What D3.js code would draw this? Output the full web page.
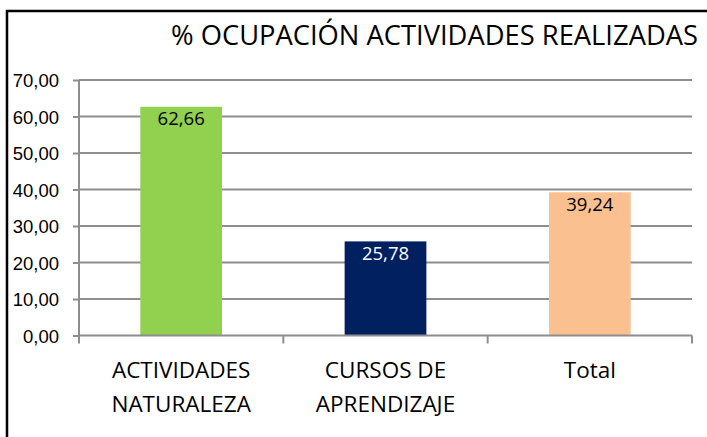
<!DOCTYPE html>
<html>
<head>
    <meta charset="utf-8">
    <style>
        body { margin: 0; background: #fff; }
        svg { display: block; font-family: "Open Sans", "DejaVu Sans", sans-serif; }
        .grid line { stroke: #8e8e8e; stroke-width: 2px; }
        .y .domain, .x .domain { stroke: #8e8e8e; stroke-width: 2px; }
        .y .tick line, .x .tick line { stroke: #8e8e8e; stroke-width: 2px; }
        .y .tick text { font-size: 18.5px; fill: #000; }
    </style>
</head>
<body>
    <svg width="707" height="437"></svg>

<script src="https://d3js.org/d3.v7.min.js"></script>
<script>
    // data
    let categories = [["ACTIVIDADES", "NATURALEZA"], ["CURSOS DE", "APRENDIZAJE"], ["Total"]]
    let values = [62.66, 25.78, 39.24]
    let labels = ["62,66", "25,78", "39,24"]
    let colors = ["#92d050", "#002060", "#fac090"]
    let labelColors = ["#000", "#fff", "#000"]
    let yTicks = [0, 10, 20, 30, 40, 50, 60, 70]

    let width = 707
    let height = 437
    let margin = { top: 80, right: 15, bottom: 101.5, left: 79 }

    let svg = d3.select("svg")

    // outer chart border (right and bottom fall outside the picture)
    svg.append("rect")
        .attr("x", 7)
        .attr("y", 11)
        .attr("width", 760)
        .attr("height", 480)
        .style("fill", "none")
        .style("stroke", "#000")
        .style("stroke-width", "2.5px")

    svg.append("text")
        .attr("x", 171)
        .attr("y", 45)
        .attr("font-size", 27)
        .attr("textLength", 527)
        .attr("lengthAdjust", "spacingAndGlyphs")
        .style("fill", "#000")
        .text("% OCUPACIÓN ACTIVIDADES REALIZADAS")

    let x = d3.scaleBand()
        .domain(d3.range(categories.length))
        .range([margin.left, width - margin.right])
        .padding(0)

    let y = d3.scaleLinear()
        .domain([0, 70])
        .range([height - margin.bottom, margin.top])

    // gridlines
    svg.append("g")
        .attr("class", "grid")
        .selectAll("line")
        .data(yTicks.slice(1))
        .join("line")
        .attr("x1", margin.left)
        .attr("x2", width - margin.right)
        .attr("y1", d => y(d))
        .attr("y2", d => y(d))

    // bars, 40% of the band
    let barW = x.bandwidth() * 0.4
    svg.append("g")
        .selectAll("rect")
        .data(values)
        .join("rect")
        .attr("x", (d, i) => x(i) + (x.bandwidth() - barW) / 2)
        .attr("y", d => y(d))
        .attr("width", barW)
        .attr("height", d => y(0) - y(d))
        .style("fill", (d, i) => colors[i])

    svg.append("g")
        .selectAll("text")
        .data(values)
        .join("text")
        .attr("x", (d, i) => x(i) + x.bandwidth() / 2)
        .attr("y", d => y(d) + 18.5)
        .attr("text-anchor", "middle")
        .attr("font-size", 18.5)
        .style("fill", (d, i) => labelColors[i])
        .text((d, i) => labels[i])

    // y axis
    let yAxisSettings = d3.axisLeft(y)
        .tickValues(yTicks)
        .tickSize(6)
        .tickSizeOuter(0)
        .tickPadding(14)
        .tickFormat(d => d3.format(".2f")(d).replace(".", ","))

    svg.append("g")
        .attr("class", "y axis")
        .attr("transform", `translate(${margin.left},0)`)
        .call(yAxisSettings)
        .call(g => g.select(".domain").attr("d", `M0,${y(70)}V${y(0) + 8}`))
        .selectAll(".tick text")
        .attr("dy", "0.36em")

    // x axis: baseline with ticks at band edges
    let xg = svg.append("g")
        .attr("class", "x axis")
        .attr("transform", `translate(0,${y(0)})`)

    xg.append("line")
        .attr("x1", margin.left)
        .attr("x2", width - margin.right)
        .style("stroke", "#8e8e8e")
        .style("stroke-width", "2px")

    let edges = d3.range(1, categories.length + 1).map(i => margin.left + x.step() * i)
    xg.selectAll(".edge")
        .data(edges)
        .join("line")
        .attr("class", "edge")
        .attr("x1", d => d)
        .attr("x2", d => d)
        .attr("y1", 0)
        .attr("y2", 8)
        .style("stroke", "#8e8e8e")
        .style("stroke-width", "2px")

    xg.selectAll(".cat")
        .data(categories)
        .join("text")
        .attr("class", "cat")
        .attr("text-anchor", "middle")
        .attr("font-size", 22.5)
        .style("fill", "#000")
        .selectAll("tspan")
        .data((d, i) => d.map(t => ({ t: t, i: i })))
        .join("tspan")
        .attr("x", d => x(d.i) + x.bandwidth() / 2)
        .attr("y", (d, j) => 42.5 + j * 33.5)
        .text(d => d.t)
</script>
</body>
</html>
